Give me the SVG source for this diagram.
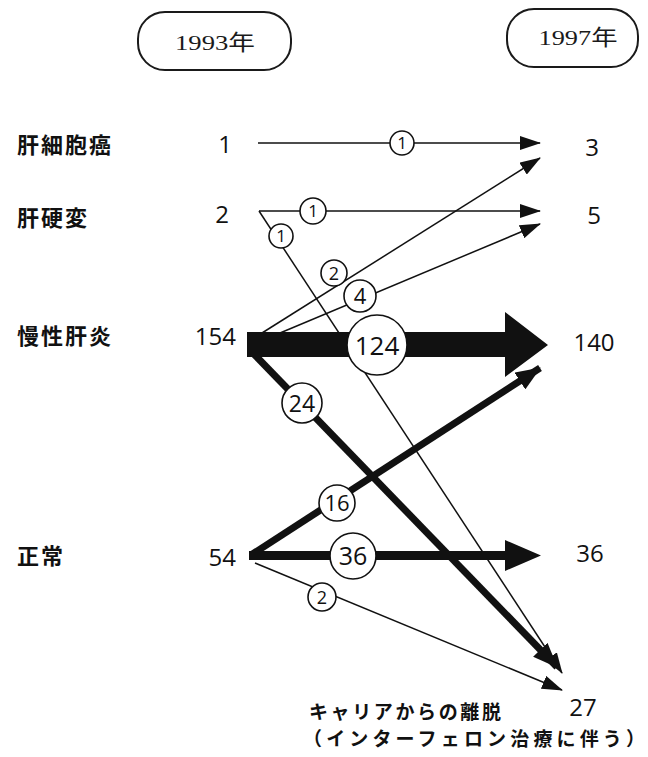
<svg xmlns="http://www.w3.org/2000/svg" width="648" height="757" viewBox="0 0 648 757">
<defs>
<style>
.bg{fill:#ffffff}
.box{fill:#ffffff;stroke:#1a1a1a;stroke-width:2}
.year{font-family:"Liberation Serif","Noto Sans CJK JP",serif;font-size:22px;fill:#1a1a1a;text-anchor:middle}
.lab{font-family:"Noto Sans CJK JP",sans-serif;font-weight:bold;font-size:22px;fill:#111;letter-spacing:2px}
.num{font-family:"Open Sans","Noto Sans",sans-serif;font-size:24px;fill:#111;text-anchor:middle}
.thin{fill:none;stroke:#111;stroke-width:1.5}
.thick{fill:none;stroke:#111;stroke-width:7}
.solid{fill:#111;stroke:none}
.c{fill:#ffffff;stroke:#111;stroke-width:1.6}
.ct{font-family:"Open Sans","Noto Sans",sans-serif;fill:#111;text-anchor:middle}
.note{font-family:"Noto Sans CJK JP",sans-serif;font-weight:bold;font-size:19px;fill:#111}
</style>
<marker id="ah" markerUnits="userSpaceOnUse" markerWidth="22" markerHeight="14" refX="20" refY="7" orient="auto" viewBox="0 0 22 14">
<path d="M0,0 L21,7 L0,14 Z" fill="#111"/>
</marker>
<marker id="ahT" markerUnits="userSpaceOnUse" markerWidth="26" markerHeight="20" refX="24" refY="10" orient="auto" viewBox="0 0 26 20">
<path d="M0,0 L25,10 L0,20 Z" fill="#111"/>
</marker>
</defs>
<rect class="bg" x="0" y="0" width="648" height="757"/>

<g id="year1993">
<rect class="box" x="138" y="12" width="153" height="58" rx="27"/>
<text class="year" x="215" y="50" textLength="80" lengthAdjust="spacingAndGlyphs">1993年</text>
</g>
<g id="year1997">
<rect class="box" x="507" y="9" width="131" height="58" rx="27"/>
<text class="year" x="578" y="45" textLength="79" lengthAdjust="spacingAndGlyphs">1997年</text>
</g>

<g id="labels">
<text class="lab" x="17" y="153">肝細胞癌</text>
<text class="lab" x="17" y="226">肝硬変</text>
<text class="lab" x="17" y="344">慢性肝炎</text>
<text class="lab" x="17" y="564">正常</text>
</g>

<g id="n1993">
<text class="num" x="225" y="153">1</text>
<text class="num" x="222" y="223">2</text>
<text class="num" x="236" y="345" style="text-anchor:end">154</text>
<text class="num" x="236" y="566" style="text-anchor:end">54</text>
</g>

<g id="n1997">
<text class="num" x="592" y="156">3</text>
<text class="num" x="594" y="224">5</text>
<text class="num" x="594" y="351">140</text>
<text class="num" x="590" y="562">36</text>
<text class="num" x="583" y="716">27</text>
</g>

<g id="connectors">
<line class="thin" x1="258" y1="143" x2="540" y2="143" marker-end="url(#ah)"/>
<line class="thin" x1="259" y1="211" x2="540" y2="211" marker-end="url(#ah)"/>
<line class="thin" x1="259" y1="211" x2="562" y2="673" marker-end="url(#ah)"/>
<line class="thin" x1="262" y1="333" x2="540" y2="158" marker-end="url(#ah)"/>
<line class="thin" x1="280" y1="333" x2="540" y2="224" marker-end="url(#ah)"/>
<line class="thick" x1="250" y1="350" x2="557" y2="667" marker-end="url(#ahT)"/>
<line class="thick" x1="251" y1="555" x2="540" y2="368" marker-end="url(#ahT)"/>
<line class="thin" x1="255" y1="563" x2="562" y2="690" marker-end="url(#ah)"/>
<polygon class="solid" points="247,332 505,332 505,312 548,345 505,377 505,357 247,357"/>
<polygon class="solid" points="249,551 505,551 505,540 541,555.5 505,571 505,560 249,560"/>
</g>

<g id="counts">
<circle class="c" cx="402" cy="143" r="12"/><text class="ct" x="402" y="149" font-size="17">1</text>
<circle class="c" cx="313" cy="211" r="13"/><text class="ct" x="313" y="217" font-size="17">1</text>
<circle class="c" cx="281" cy="236" r="12"/><text class="ct" x="281" y="242" font-size="17">1</text>
<circle class="c" cx="334" cy="273" r="13"/><text class="ct" x="334" y="279.5" font-size="18">2</text>
<circle class="c" cx="360" cy="296" r="16"/><text class="ct" x="360" y="304" font-size="22">4</text>
<circle class="c" cx="377" cy="345" r="30"/><text class="ct" x="377" y="354.5" font-size="26">124</text>
<circle class="c" cx="302" cy="403" r="20"/><text class="ct" x="302" y="411.5" font-size="23">24</text>
<circle class="c" cx="337" cy="503" r="18"/><text class="ct" x="337" y="511" font-size="22">16</text>
<circle class="c" cx="353" cy="556" r="23"/><text class="ct" x="353" y="565" font-size="25">36</text>
<circle class="c" cx="322" cy="597" r="14"/><text class="ct" x="322" y="603.5" font-size="18">2</text>
</g>

<g id="note">
<text class="note" x="309" y="719" textLength="192" lengthAdjust="spacing">キャリアからの離脱</text>
<text class="note" x="303" y="746" textLength="342" lengthAdjust="spacing">（インターフェロン治療に伴う）</text>
</g>
</svg>
